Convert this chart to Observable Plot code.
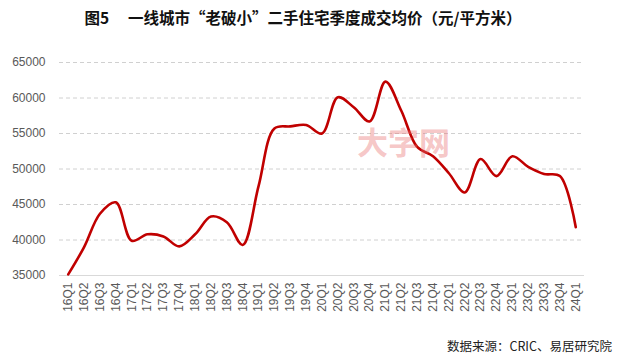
<!DOCTYPE html>
<html><head><meta charset="utf-8">
<script src="https://cdn.jsdelivr.net/npm/d3@7"></script>
<script src="https://cdn.jsdelivr.net/npm/@observablehq/plot@0.6"></script>
<style>
body{margin:0;background:#fff;}
#wrap{position:relative;width:619px;height:361px;overflow:hidden;}
#title{position:absolute;left:0;top:6px;width:606px;text-align:center;font:bold 15.5px "Noto Sans CJK SC";color:#111;white-space:nowrap;}
#cap{position:absolute;right:7px;top:336px;font:12.5px "Noto Sans CJK SC";color:#222;white-space:nowrap;}
#wm{position:absolute;left:357px;top:118px;font:bold 31px "Noto Sans CJK SC";color:rgba(232,110,110,0.4);white-space:nowrap;}
</style></head><body>
<div id="wrap"><div id="chart"></div>
<div id="title">图5　 一线城市“老破小”二手住宅季度成交均价（元/平方米）</div>
<div id="wm">大字网</div>
<div id="cap">数据来源：CRIC、易居研究院</div>
</div>
<script>
const quarters = ["16Q1","16Q2","16Q3","16Q4","17Q1","17Q2","17Q3","17Q4","18Q1","18Q2","18Q3","18Q4","19Q1","19Q2","19Q3","19Q4","20Q1","20Q2","20Q3","20Q4","21Q1","21Q2","21Q3","21Q4","22Q1","22Q2","22Q3","22Q4","23Q1","23Q2","23Q3","23Q4","24Q1"];
const prices = [35150,39000,43700,45300,39900,40800,40500,39100,40800,43300,42500,39300,47600,55700,56000,56200,55000,60100,58700,56700,62300,58200,53100,51800,49400,46700,51400,49000,51800,50300,49300,49000,41800];
const yTicks = [35000,40000,45000,50000,55000,60000,65000];
const data = quarters.map((q,i)=>({q, v: prices[i]}));
const chart = Plot.plot({
  width:619, height:361,
  marginLeft:59, marginRight:35, marginTop:62, marginBottom:86,
  style:{fontFamily:"'Liberation Sans', Arial, sans-serif", fontSize:"12px", color:"#595959", background:"white"},
  x:{type:"point", domain:quarters, padding:0.55, round:false, label:null, tickRotate:-90, tickSize:0, tickPadding:7},
  y:{domain:[35000,65000], ticks:yTicks, label:null, tickSize:0, tickPadding:14, tickFormat:d=>String(d)},
  marks:[
    Plot.ruleY(yTicks.filter(d=>d>35000), {stroke:"#d0d0d0", strokeDasharray:"4,3"}),
    Plot.ruleY([35000], {stroke:"#d9d9d9"}),
    Plot.line(data, {x:"q", y:"v", stroke:"#c00000", strokeWidth:2.6, curve:"catmull-rom"})
  ]
});
document.getElementById("chart").appendChild(chart);
</script>
</body></html>
